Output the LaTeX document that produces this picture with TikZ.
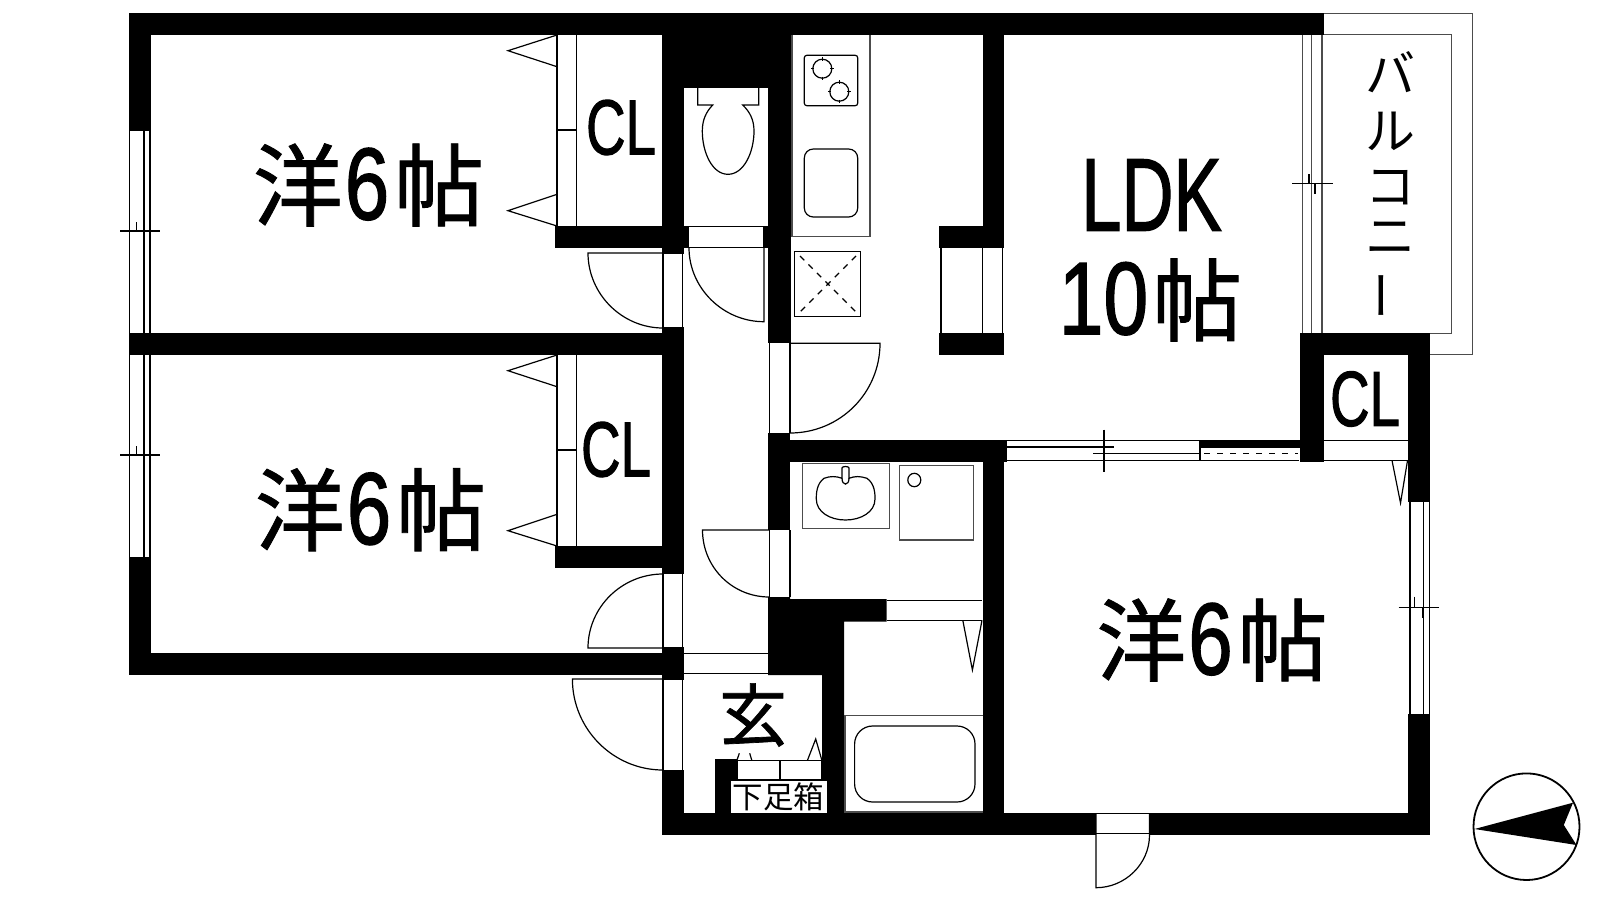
\documentclass[tikz,border=0pt]{standalone}
\usepackage{fontspec}
\usepackage{graphicx}
\setmainfont{Liberation Sans}
\newfontfamily\latinheavy[FakeBold=1.6]{Liberation Sans}
\newfontfamily\cjkfont{Noto Sans CJK JP}
\newfontfamily\cjkheavy[FakeBold=1.0]{Noto Sans CJK JP}
\newcommand{\latinbig}[2]{{\latinheavy\fontsize{#1}{#1}\selectfont\scalebox{0.7}[1]{#2}}}
\newcommand{\latinwide}[2]{{\latinheavy\fontsize{#1}{#1}\selectfont\scalebox{0.78}[1]{#2}}}
\newcommand{\sixglyph}{{\latinheavy\scalebox{0.78}[1]{\fontsize{102}{102}\selectfont 6}}}
\newcommand{\dtlabel}{{\cjkheavy\fontsize{90}{90}\selectfont 帖}}
\newcommand{\westlabel}{{\cjkheavy\fontsize{90}{90}\selectfont 洋}\kern 2pt\sixglyph\kern 5pt\dtlabel}
\tikzset{
  x=1pt,y=-1pt,
  wall/.style={fill=black,draw=none},
  thin line/.style={draw=black,line width=1.2pt},
  gray line/.style={draw=black!70,line width=1.4pt},
  room label/.style={inner sep=0pt,outer sep=0pt,anchor=center},
}
\begin{document}
\begin{tikzpicture}
\useasboundingbox (0,0) rectangle (1600,900);
\fill[white] (0,0) rectangle (1600,900);

% ---- balcony outline
\draw[gray line] (1313,13.5) -- (1472.5,13.5) -- (1472.5,354.5) -- (1430,354.5);
\draw[gray line] (1322,34.5) -- (1451.5,34.5) -- (1451.5,333.5) -- (1420,333.5);

% ---- outer and inner walls
\fill[wall] (129,13) rectangle (1323.5,35);
\fill[wall] (129,13) rectangle (151,131);
\fill[wall] (129,333) rectangle (684,355);
\fill[wall] (129,557) rectangle (151,675);
\fill[wall] (129,653) rectangle (684,675);
\fill[wall] (662,13) rectangle (684,254);
\fill[wall] (662,35) rectangle (791,88);
\fill[wall] (555,226) rectangle (689,248);
\fill[wall] (662,327) rectangle (684,355);
\fill[wall] (662,355) rectangle (684,574);
\fill[wall] (555,546) rectangle (684,568);
\fill[wall] (662,647) rectangle (684,680);
\fill[wall] (662,770) rectangle (684,835);
\fill[wall] (662,813) rectangle (1096,835);
\fill[wall] (1149.5,813) rectangle (1430,835);
\fill[wall] (768,13) rectangle (791,343);
\fill[wall] (763,226) rectangle (768,248);
\fill[wall] (983,13) rectangle (1004,248);
\fill[wall] (939,226) rectangle (1004,248);
\fill[wall] (939,333) rectangle (1004,355);
\fill[wall] (768,433) rectangle (790,530);
\fill[wall] (768,439.5) rectangle (1007,461.5);
\fill[wall] (983,440) rectangle (1004,835);
\fill[wall] (1301.5,333) rectangle (1430,355);
\fill[wall] (1299.5,333) rectangle (1324,461.5);
\fill[wall] (1408,333) rectangle (1430,502);
\fill[wall] (1408,714) rectangle (1430,835);
\fill[wall] (1200,440) rectangle (1300,447.7);
\fill[wall] (768,597) -- (790,597) -- (790,599) -- (886.7,599) -- (886.7,621.7)
  -- (844,621.7) -- (844,813) -- (822,813) -- (822,675) -- (768,675) -- cycle;
\fill[wall] (715,759) rectangle (737,813);

% ---- windows
\foreach \ya/\yb in {131/333,355/557}{
  \draw[thin line] (129.6,\ya) -- (129.6,\yb) (144,\ya) -- (144,\yb) (150,\ya) -- (150,\yb);
}
\draw[thin line] (120,231) -- (160,231) (136.5,222) -- (136.5,231) (143.5,231) -- (143.5,242);
\draw[thin line] (120,455) -- (160,455) (136.5,446) -- (136.5,455) (143.5,455) -- (143.5,466);
\draw[gray line] (1302.5,35) -- (1302.5,333) (1311.7,35) -- (1311.7,333) (1322,35) -- (1322,333);
\draw[thin line] (1292,183.3) -- (1333,183.3) (1309,174) -- (1309,183.3) (1315,183.3) -- (1315,194);
\draw[thin line] (1410,502) -- (1410,714) (1423.5,502) -- (1423.5,714) (1429.5,502) -- (1429.5,714);
\draw[thin line] (1398.5,607.3) -- (1438.8,607.3) (1414.8,596.7) -- (1414.8,607.3) (1422.4,607.3) -- (1422.4,617.7);

% ---- sliding door LDK / room
\draw[thin line] (1006.7,440.3) -- (1200,440.3) (1006.7,447) -- (1114,447)
  (1093.3,453.7) -- (1200,453.7) (1006.7,460.5) -- (1299,460.5)
  (1104,429.7) -- (1104,471.7) (1200,440.3) -- (1200,460.5);
\draw[thin line,dash pattern=on 6pt off 7pt] (1204,453.5) -- (1298,453.5);

% ---- LDK opening
\draw[thin line] (941,248) -- (941,333) (982.7,248) -- (982.7,333) (1002.5,248) -- (1002.5,333);

% ---- closets
\foreach \ya/\yb/\ym in {35/226/130,355/546/450}{
  \draw[thin line] (557,\ya) -- (557,\yb) (576.5,\ya) -- (576.5,\yb) (557,\ym) -- (576.5,\ym);
}
\draw[thin line] (557,35) -- (508,50.7) -- (557,66.7);
\draw[thin line] (557,194.3) -- (508,210.7) -- (557,226);
\draw[thin line] (557,355) -- (508,370.7) -- (557,386.7);
\draw[thin line] (557,514.3) -- (508,530.7) -- (557,546);
\draw[thin line] (1324,440.7) -- (1408,440.7) (1324,460.5) -- (1408,460.5);
\draw[thin line] (1392,460.5) -- (1400.5,503) -- (1407.5,460.5);

% ---- doors
\draw[thin line] (663,254) -- (663,327) (682.6,254) -- (682.6,327);
\draw[thin line] (663,253) -- (588,253) .. controls (588,294) and (622,328) .. (663,328);
\draw[thin line] (689,226.7) -- (763,226.7) (689,247.7) -- (764,247.7);
\draw[thin line] (689,247.7) .. controls (689,288) and (723,321.7) .. (764,321.7) -- (764,247.7);
\draw[thin line] (769.4,343) -- (769.4,433) (790,343) -- (790,433);
\draw[thin line] (790,343.3) -- (880,343.3) .. controls (880,393) and (840,433) .. (790,433);
\draw[thin line] (663,574) -- (663,647) (682.6,574) -- (682.6,647);
\draw[thin line] (663,648) -- (588,648) .. controls (588,607) and (622,574) .. (663,574);
\draw[thin line] (663,680) -- (663,770) (682.6,680) -- (682.6,770);
\draw[thin line] (663,679) -- (572.4,679) .. controls (572.4,729) and (613,770) .. (663,770);
\draw[thin line] (769.4,530) -- (769.4,597) (790,530) -- (790,597);
\draw[thin line] (769.4,530) -- (702.5,530) .. controls (702.5,567) and (732,597) .. (769.4,597);
\draw[thin line] (684,653.3) -- (768,653.3) (684,673.3) -- (768,673.3);
\draw[thin line] (886.7,600.7) -- (982,600.7) (886.7,620.3) -- (982,620.3) ;
\draw[thin line] (962.8,620.3) -- (972.4,670) -- (982,620.3);
\draw[thin line] (1096,813.5) -- (1149.5,813.5) (1096,833.3) -- (1149.5,833.3);
\draw[thin line] (1096,813.5) -- (1096,887.7) .. controls (1125,887.7) and (1149.5,864) .. (1149.5,835) -- (1149.5,813.5);

% ---- toilet
\draw[thin line] (697.7,88) -- (697.7,105) -- (712.7,105)
  .. controls (706,112) and (702.3,120) .. (702.3,131)
  .. controls (702.3,152) and (712,174.3) .. (728,174.3)
  .. controls (744,174.3) and (754,152) .. (754,131)
  .. controls (754,120) and (750,112) .. (742.7,105) -- (758.7,105) -- (758.7,88);

% ---- kitchen
\draw[gray line] (792,35) -- (792,236.7) -- (870,236.7) -- (870,35);
\draw[thin line,rounded corners=2.5pt] (804.3,55.3) rectangle (857.7,105.7);
\draw[thin line] (822.3,68.7) circle (9.5) (839.3,91.7) circle (9.5);
\foreach \cx/\cy in {822.3/68.7,839.3/91.7}{
  \draw[thin line] (\cx-11.5,\cy) -- (\cx-8,\cy) (\cx+8,\cy) -- (\cx+11.5,\cy)
    (\cx,\cy-11.5) -- (\cx,\cy-8) (\cx,\cy+8) -- (\cx,\cy+11.5);
}
\draw[thin line,rounded corners=9pt] (804.3,149) rectangle (857.7,217);
\draw[thin line] (794.7,251.3) rectangle (860.7,316.3);
\draw[thin line,dash pattern=on 6pt off 6pt] (800,256) -- (856,312) (856,256) -- (800,312);

% ---- wash room
\draw[gray line] (802.5,463.3) rectangle (889.3,528.7);
\draw[thin line] (824,478.3) .. controls (816.3,484) and (816.3,494) .. (816.3,499)
  .. controls (816.3,512) and (830,520) .. (845.5,520)
  .. controls (861,520) and (875,512) .. (875,499)
  .. controls (875,494) and (875,484) .. (867,478.3)
  .. controls (860,476) and (855,476) .. (849,478.3)
  -- (849,468) .. controls (849,466) and (842,466) .. (842,468) -- (842,478.3)
  .. controls (836,476) and (830,476) .. (824,478.3);
\draw[thin line] (842,478.3) .. controls (842,486) and (849,486) .. (849,478.3);
\draw[gray line] (899.5,465.3) rectangle (973.5,540);
\draw[thin line] (914.3,480) ellipse (6.5 and 6.7);

% ---- bath
\draw[gray line] (845,813) -- (845,715.3) -- (982.7,715.3);
\draw[gray line] (845,812) -- (982.7,812);
\draw[thin line,rounded corners=18pt] (854.6,726) rectangle (975,802);

% ---- shoe cabinet
\fill[white] (731,781) rectangle (826.7,813);
\draw[thin line] (737,760.7) -- (822,760.7) (737,780) -- (822,780) (737,760.7) -- (737,780)
  (780,760.7) -- (780,780) (822,760.7) -- (822,780);
\draw[thin line] (807.3,760.7) -- (815.7,739) -- (822,760.7);
\draw[thin line] (737,760) -- (739.3,753.3) (751.7,760) -- (749.7,753.3);
\node[room label] (shoe) at (778.5,797)
  {\cjkfont\fontsize{30.5}{30.5}\selectfont 下足箱};

% ---- compass
\draw[black,line width=1.8pt] (1526.5,826.7) ellipse (53 and 53.3);
\fill[black] (1474.5,829) -- (1573,802.7) -- (1563.8,825) -- (1576.5,845) -- cycle;

% ---- labels
\node[room label] (room1) at (368.5,185) {\westlabel};
\node[room label] (room2) at (370.5,509.7) {\westlabel};
\node[room label] (room3) at (1212,640) {\westlabel};
\node[room label] (ldk) at (1151.5,195) {\latinbig{103}{LDK}};
\node[room label] (ldkarea) at (1150.5,300) {\latinwide{103}{10}\kern 4pt\dtlabel};
\node[room label] (cl1) at (621,127.5) {\latinbig{78}{CL}};
\node[room label] (cl2) at (616,449.5) {\latinbig{78}{CL}};
\node[room label] (cl3) at (1365,399) {\latinbig{78}{CL}};
\node[room label] (entry) at (753,715) {\cjkheavy\fontsize{68}{68}\selectfont 玄};
\node[room label,align=center,font=\cjkfont\fontsize{50}{54}\selectfont] (balcony) at (1390,186)
  {バ\\[3pt]ル\\[1pt]コ\\[-4pt]ニ\\[-2pt]\rotatebox[origin=c]{90}{ー}};
\end{tikzpicture}
\end{document}
